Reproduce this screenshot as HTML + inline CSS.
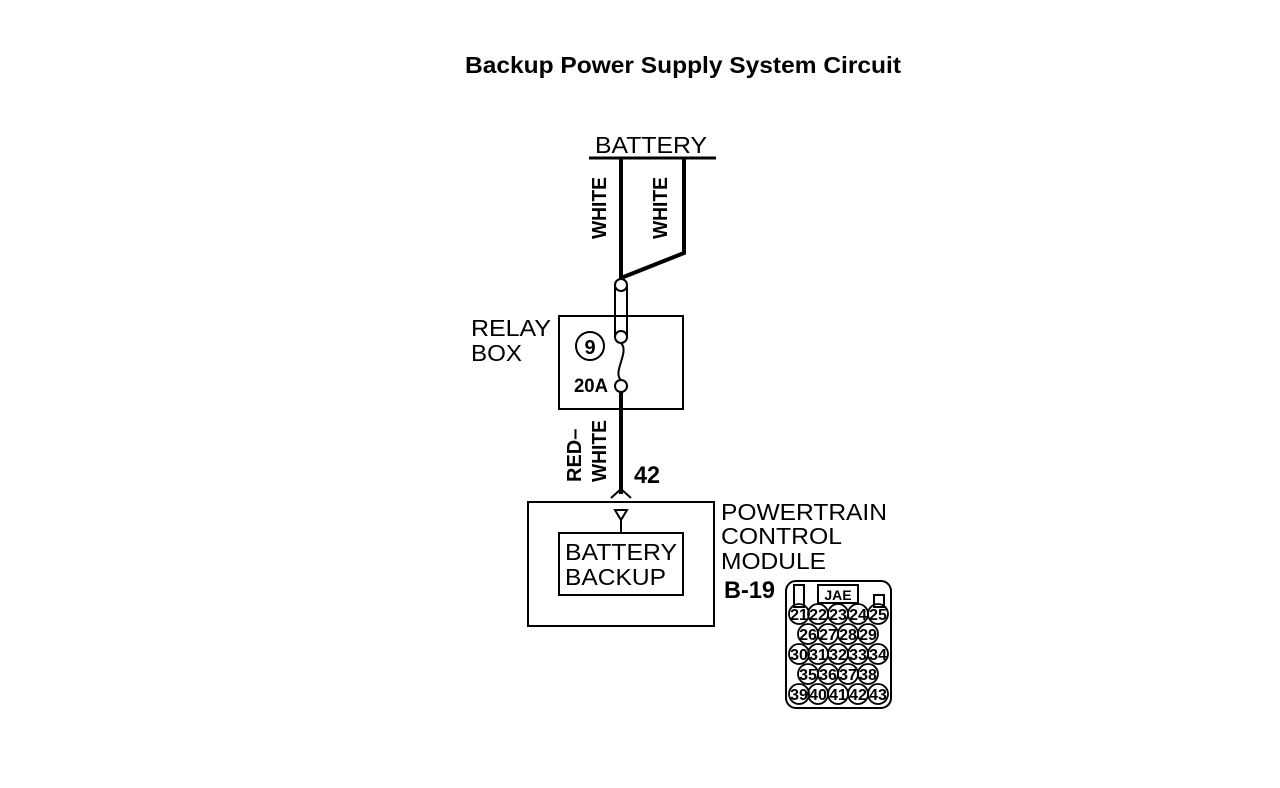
<!DOCTYPE html>
<html><head><style>body{margin:0;background:#fff}svg{display:block}</style></head><body>
<svg width="1280" height="788" viewBox="0 0 1280 788" xmlns="http://www.w3.org/2000/svg" font-family="Liberation Sans, sans-serif">
<text x="465" y="73" font-size="23" font-weight="bold" textLength="436" lengthAdjust="spacingAndGlyphs">Backup Power Supply System Circuit</text>
<text x="595" y="153" font-size="23" textLength="112" lengthAdjust="spacingAndGlyphs">BATTERY</text>
<line x1="589" y1="158" x2="716" y2="158" stroke="#000" stroke-width="3"/>
<g stroke="#000" fill="none">
<polyline points="684,158 684,253 621,278" stroke-width="4"/>
<line x1="621" y1="158" x2="621" y2="280" stroke-width="4"/>
<line x1="615" y1="285" x2="615" y2="337" stroke-width="2"/>
<line x1="627" y1="285" x2="627" y2="337" stroke-width="2"/>
<circle cx="621" cy="285" r="6" fill="#fff" stroke-width="2"/>
<circle cx="621" cy="337" r="6" fill="#fff" stroke-width="2"/>
<path d="M621,343 C630,352 612,372 621,380" stroke-width="2"/>
<circle cx="621" cy="386" r="6" fill="#fff" stroke-width="2"/>
<line x1="621" y1="392" x2="621" y2="494" stroke-width="4"/>
<polyline points="611,498 621,489 631,498" stroke-width="2"/>
<rect x="559" y="316" width="124" height="93" stroke-width="2"/>
<circle cx="590" cy="346" r="14" stroke-width="2"/>
<rect x="528" y="502" width="186" height="124" stroke-width="2"/>
<polygon points="615,510 627,510 621,520" stroke-width="2"/>
<line x1="621" y1="520" x2="621" y2="533" stroke-width="2"/>
<rect x="559" y="533" width="124" height="62" stroke-width="2"/>
</g>
<g font-weight="bold" font-size="20">
<text transform="translate(606,208) rotate(-90)" text-anchor="middle" textLength="62" lengthAdjust="spacingAndGlyphs">WHITE</text>
<text transform="translate(667,208) rotate(-90)" text-anchor="middle" textLength="62" lengthAdjust="spacingAndGlyphs">WHITE</text>
<text transform="translate(581,482) rotate(-90)" font-size="20">RED–</text>
<text transform="translate(606,482) rotate(-90)" textLength="62" lengthAdjust="spacingAndGlyphs">WHITE</text>
<text x="634" y="483" font-size="24" textLength="26" lengthAdjust="spacingAndGlyphs">42</text>
<text x="590" y="354" text-anchor="middle" font-size="20">9</text>
<text x="574" y="392" font-size="19" textLength="34" lengthAdjust="spacingAndGlyphs">20A</text>
<text x="724" y="598" font-size="24" textLength="51" lengthAdjust="spacingAndGlyphs">B-19</text>
</g>
<g font-size="23">
<text x="471" y="336" textLength="80" lengthAdjust="spacingAndGlyphs">RELAY</text><text x="471" y="361" textLength="51" lengthAdjust="spacingAndGlyphs">BOX</text>
<text x="721" y="520" textLength="166" lengthAdjust="spacingAndGlyphs">POWERTRAIN</text><text x="721" y="544" textLength="121" lengthAdjust="spacingAndGlyphs">CONTROL</text><text x="721" y="569" textLength="105" lengthAdjust="spacingAndGlyphs">MODULE</text>
<text x="565" y="560" textLength="112" lengthAdjust="spacingAndGlyphs">BATTERY</text><text x="565" y="585" textLength="101" lengthAdjust="spacingAndGlyphs">BACKUP</text>
</g>
<g stroke="#000" fill="none" stroke-width="2">
<rect x="786" y="581" width="105" height="127" rx="10"/>
<rect x="794" y="585" width="10" height="22"/>
<rect x="818" y="585" width="40" height="18"/>
<rect x="874" y="595" width="10" height="12"/>
</g>
<text x="838" y="600" text-anchor="middle" font-size="14" font-weight="bold">JAE</text>
<g font-size="16" text-anchor="middle" font-weight="bold">
<g fill="none" stroke="#000" stroke-width="1.8">
<circle cx="799" cy="614" r="10"/><circle cx="818" cy="614" r="10"/><circle cx="838" cy="614" r="10"/><circle cx="858" cy="614" r="10"/><circle cx="878" cy="614" r="10"/>
<circle cx="808" cy="634" r="10"/><circle cx="828" cy="634" r="10"/><circle cx="848" cy="634" r="10"/><circle cx="868" cy="634" r="10"/>
<circle cx="799" cy="654" r="10"/><circle cx="818" cy="654" r="10"/><circle cx="838" cy="654" r="10"/><circle cx="858" cy="654" r="10"/><circle cx="878" cy="654" r="10"/>
<circle cx="808" cy="674" r="10"/><circle cx="828" cy="674" r="10"/><circle cx="848" cy="674" r="10"/><circle cx="868" cy="674" r="10"/>
<circle cx="799" cy="694" r="10"/><circle cx="818" cy="694" r="10"/><circle cx="838" cy="694" r="10"/><circle cx="858" cy="694" r="10"/><circle cx="878" cy="694" r="10"/>
</g>
<text x="799" y="620">21</text><text x="818" y="620">22</text><text x="838" y="620">23</text><text x="858" y="620">24</text><text x="878" y="620">25</text>
<text x="808" y="640">26</text><text x="828" y="640">27</text><text x="848" y="640">28</text><text x="868" y="640">29</text>
<text x="799" y="660">30</text><text x="818" y="660">31</text><text x="838" y="660">32</text><text x="858" y="660">33</text><text x="878" y="660">34</text>
<text x="808" y="680">35</text><text x="828" y="680">36</text><text x="848" y="680">37</text><text x="868" y="680">38</text>
<text x="799" y="700">39</text><text x="818" y="700">40</text><text x="838" y="700">41</text><text x="858" y="700">42</text><text x="878" y="700">43</text>
</g>
</svg>
</body></html>
